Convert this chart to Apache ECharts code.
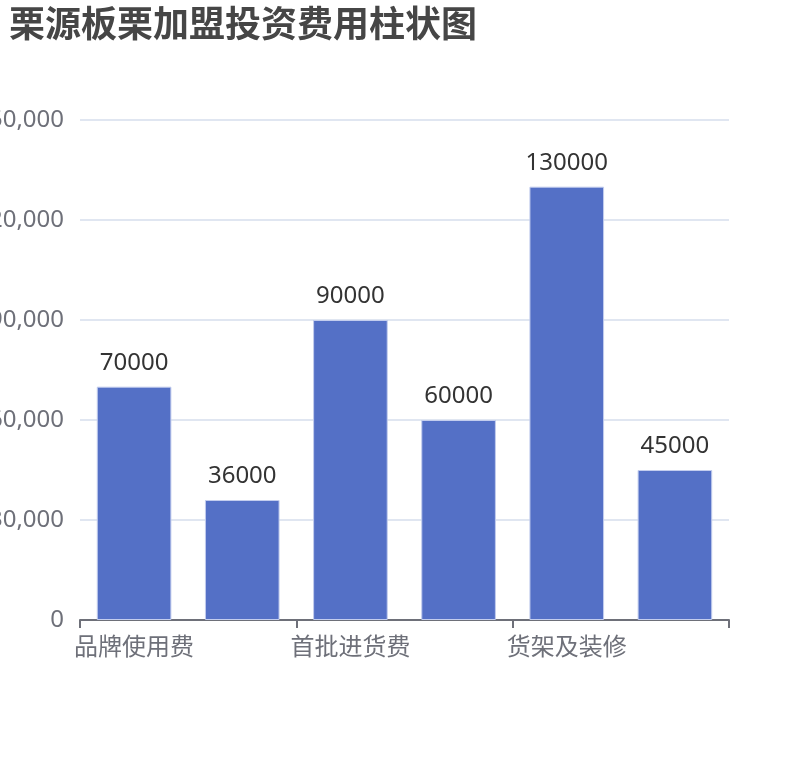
<!DOCTYPE html>
<html>
<head>
<meta charset="utf-8">
<script src="https://cdn.jsdelivr.net/npm/echarts@6/dist/echarts.min.js"></script>
<style>
  html, body { margin: 0; padding: 0; background: #fff; }
  #chart { width: 810px; height: 760px; }
</style>
</head>
<body>
<div id="chart"></div>
<script>
const categories = ['品牌使用费', '加盟费', '首批进货费', '设备费', '货架及装修', '流动资金'];
const costs = [70000, 36000, 90000, 60000, 130000, 45000];
const yMax = 150000;
const yStep = 30000;
const fontFamily = '"Noto Sans", "Noto Sans CJK SC", sans-serif';

const chart = echarts.init(document.getElementById('chart'));

chart.setOption({
  title: {
    text: '栗源板栗加盟投资费用柱状图',
    left: 4,
    top: 4,
    textStyle: {
      fontSize: 36,
      fontWeight: 'bold',
      color: '#464646',
      fontFamily: fontFamily
    }
  },
  grid: {
    left: 80,
    right: 81,
    top: 120,
    bottom: 140,
    // Keep the grid fixed; the y labels run off the left edge like the original
    containLabel: false,
    outerBoundsMode: 'none'
  },
  xAxis: {
    type: 'category',
    data: categories,
    axisLabel: {
      interval: 1,
      margin: 16,
      fontSize: 24,
      color: '#6e7079',
      fontFamily: fontFamily
    },
    axisTick: { show: true, interval: 1, length: 8, lineStyle: { width: 2 } },
    axisLine: { lineStyle: { color: '#6e7079', width: 2 } }
  },
  yAxis: {
    type: 'value',
    min: 0,
    max: yMax,
    interval: yStep,
    axisLabel: {
      fontSize: 24,
      margin: 16,
      color: '#6e7079',
      fontFamily: fontFamily,
      // Thousands separators, e.g. 30,000
      formatter: (v) => v.toLocaleString('en-US')
    },
    splitLine: { lineStyle: { color: '#e0e6f1', width: 2 } }
  },
  series: [
    {
      type: 'bar',
      data: costs,
      barWidth: '69%',
      itemStyle: {
        color: '#5470c6',
        borderColor: '#c3cdee',
        borderWidth: 1
      },
      label: {
        show: true,
        position: 'top',
        distance: 12,
        fontSize: 24,
        color: '#333',
        fontFamily: fontFamily
      }
    }
  ]
});
</script>
</body>
</html>
